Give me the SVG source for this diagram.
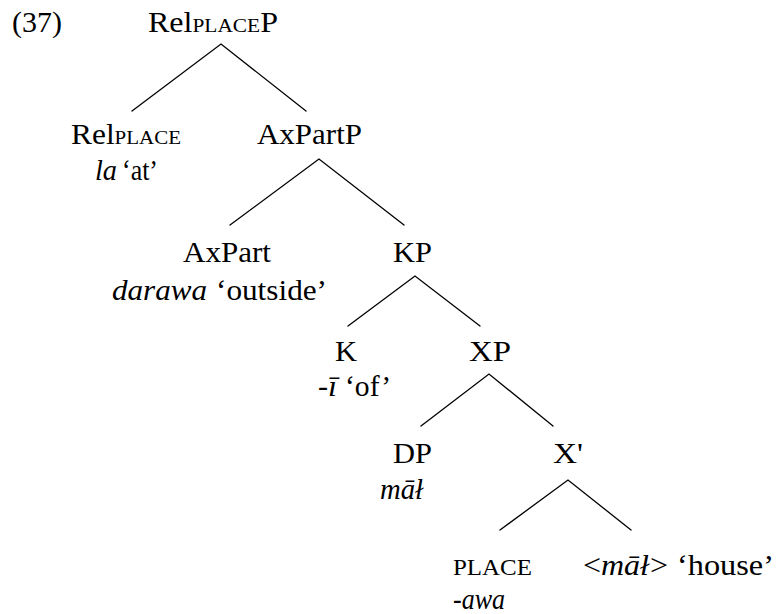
<svg xmlns="http://www.w3.org/2000/svg" width="776" height="614" viewBox="0 0 776 614">
  <style>
    text { font-family: "Liberation Serif", "Times New Roman", serif; font-size: 28.5px; fill: #000; }
    .it { font-style: italic; }
    .sc { font-size: 19px; }
    .sm { font-size: 23px; }
    .edge { stroke: #000; stroke-width: 1.3; fill: none; stroke-linecap: round; }
  </style>
  <rect width="776" height="614" fill="#fff"/>

  <!-- example number -->
  <g id="example-number">
    <text x="12" y="32" textLength="50" lengthAdjust="spacingAndGlyphs">(37)</text>
  </g>

  <!-- tree branches -->
  <g id="connectors">
    <polyline class="edge" points="132,111 221,44 306,111"/>
    <polyline class="edge" points="230,225 319,159 404,225"/>
    <polyline class="edge" points="348,326 415,276 480,326"/>
    <polyline class="edge" points="421,426 489,374 553,426"/>
    <polyline class="edge" points="500,530 568,480 631,530"/>
  </g>

  <!-- nodes -->
  <g id="rel-place-p">
    <text x="148" y="32" textLength="130" lengthAdjust="spacingAndGlyphs">Rel<tspan class="sc">PLACE</tspan>P</text>
  </g>
  <g id="rel-place">
    <text x="71" y="144" textLength="110" lengthAdjust="spacingAndGlyphs">Rel<tspan class="sc">PLACE</tspan></text>
    <text class="it" x="95" y="180" textLength="22" lengthAdjust="spacingAndGlyphs">la</text>
    <text x="122" y="180" textLength="36" lengthAdjust="spacingAndGlyphs">‘at’</text>
  </g>
  <g id="axpart-p">
    <text x="257" y="144" textLength="105" lengthAdjust="spacingAndGlyphs">AxPartP</text>
  </g>
  <g id="axpart">
    <text x="183" y="262" textLength="88" lengthAdjust="spacingAndGlyphs">AxPart</text>
    <text class="it" x="112" y="300" textLength="95" lengthAdjust="spacingAndGlyphs">darawa</text>
    <text x="216" y="300" textLength="111" lengthAdjust="spacingAndGlyphs">‘outside’</text>
  </g>
  <g id="kp">
    <text x="393" y="262" textLength="39" lengthAdjust="spacingAndGlyphs">KP</text>
  </g>
  <g id="k">
    <text x="335" y="361" textLength="22" lengthAdjust="spacingAndGlyphs">K</text>
    <text x="318" y="396" textLength="10" lengthAdjust="spacingAndGlyphs">-</text>
    <text class="it" x="328" y="396" textLength="9" lengthAdjust="spacingAndGlyphs">ī</text>
    <text x="345" y="396" textLength="46" lengthAdjust="spacingAndGlyphs">‘of’</text>
  </g>
  <g id="xp">
    <text x="469" y="361" textLength="42" lengthAdjust="spacingAndGlyphs">XP</text>
  </g>
  <g id="dp">
    <text x="393" y="463" textLength="39" lengthAdjust="spacingAndGlyphs">DP</text>
    <text class="it" x="380" y="499" textLength="43" lengthAdjust="spacingAndGlyphs">māł</text>
  </g>
  <g id="x-bar">
    <text x="553" y="463" textLength="30" lengthAdjust="spacingAndGlyphs">X'</text>
  </g>
  <g id="place">
    <text class="sm" x="453" y="575" textLength="79" lengthAdjust="spacingAndGlyphs">PLACE</text>
    <text class="it" x="453" y="609" textLength="52" lengthAdjust="spacingAndGlyphs">-awa</text>
  </g>
  <g id="mal-house">
    <text x="583" y="575" textLength="18" lengthAdjust="spacingAndGlyphs">&lt;</text>
    <text class="it" x="601" y="575" textLength="48" lengthAdjust="spacingAndGlyphs">māł</text>
    <text x="650" y="575" textLength="18" lengthAdjust="spacingAndGlyphs">&gt;</text>
    <text x="677" y="575" textLength="97" lengthAdjust="spacingAndGlyphs">‘house’</text>
  </g>
</svg>
